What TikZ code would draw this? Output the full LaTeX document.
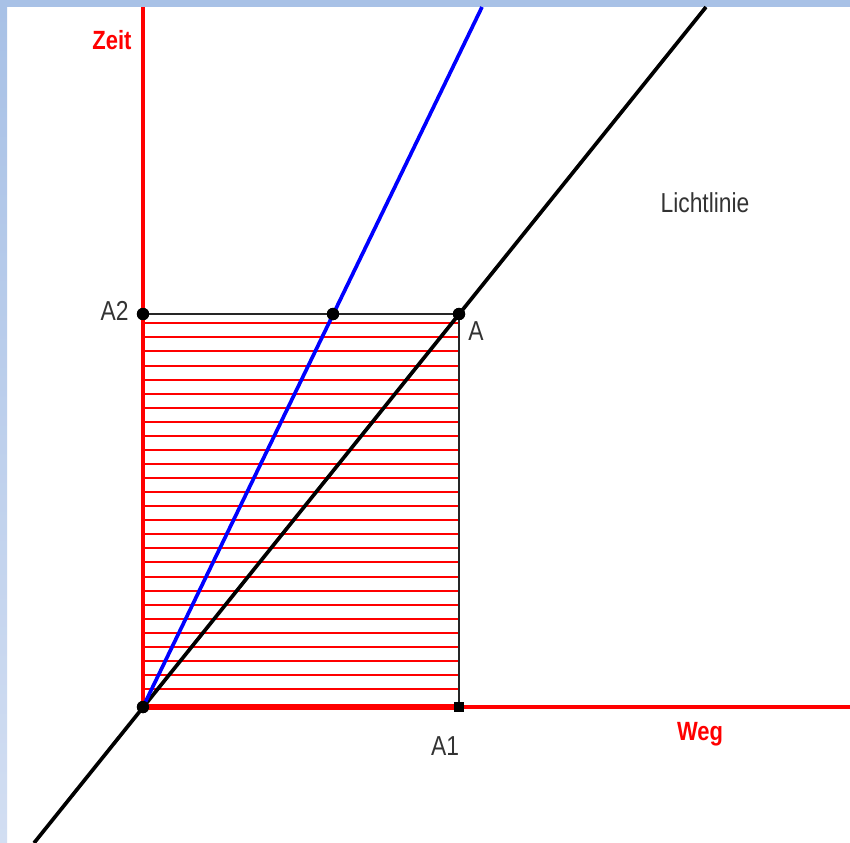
\documentclass[tikz,border=0pt]{standalone}
\usepackage{fontspec}
\usepackage{graphicx}
\setmainfont{Liberation Sans}
\usetikzlibrary{positioning}
\definecolor{framebl}{RGB}{168,193,230}
\definecolor{framelt}{RGB}{210,222,242}
\newcommand{\tallt}[1]{\scalebox{1}[1.2]{#1}}

\begin{document}
\begin{tikzpicture}[x=0.02cm, y=-0.02cm,
  dot/.style={circle, fill=black, inner sep=0pt, minimum size=7pt},
  sqdot/.style={rectangle, fill=black, inner sep=0pt, minimum size=6pt},
  axis/.style={red, line width=2pt},
  axlab/.style={text=red, font=\fontsize{12.5}{14}\selectfont\bfseries, anchor=base},
  ptlab/.style={text=black!80, font=\fontsize{13}{15}\selectfont, anchor=base},
  hatch/.style={red, line width=1.134pt},
  thinl/.style={black!85, line width=0.7pt},
  world/.style={black, line width=2.1pt},
  ship/.style={blue, line width=2.1pt},
]
% Frame
\useasboundingbox (0,0) rectangle (850,843);
\fill[white] (0,0) rectangle (850,843);
\fill[framebl] (0,0) rectangle (850,7);
\shade[top color=framebl, bottom color=framelt] (0,7) rectangle (7,843);

% Points
\node[dot]   (O)  at (143,707) {};
\node[dot]   (A2) at (143,314) {};
\node[dot]   (B)  at (333,314) {};
\node[dot]   (A)  at (459,314) {};
\node[sqdot] (A1) at (459,707) {};

% Line ends
\coordinate (zt) at (143,7);
\coordinate (we) at (850,707);
\coordinate (bt) at (482,7);
\coordinate (lt) at (706,7);
\coordinate (lb) at (34,843);

% Hatching
\foreach \k [evaluate=\k as \yy using round(323.3+14.07*\k)] in {0,...,26}
  \draw[hatch] (144,\yy) -- (459,\yy);

% Rectangle
\draw[thinl] (A2.center) -- (A.center);
\draw[thinl] (A.center) -- (A1.center);

% Axes
\draw[axis] (zt) -- (O.center);
\draw[red, line width=2.6pt] (O.center) -- (we);
\draw[red, line width=3.6pt] (O.center) -- (A1.center);

% Light line and blue line
\draw[world] (lb) -- (lt);
\draw[ship] (O.center) -- (bt);

% Points on top
\node[dot]   at (O)  {};
\node[dot]   at (A2) {};
\node[dot]   at (B)  {};
\node[dot]   at (A)  {};
\node[sqdot] at (A1) {};

% Labels
\node[axlab] (zeit) at (112,49)  {\tallt{Zeit}};
\node[axlab] (weg)  at (700,740) {\tallt{Weg}};
\node[ptlab] (la2)  at (114.5,320) {\tallt{A2}};
\node[ptlab] (la)   at (476,340) {\tallt{A}};
\node[ptlab] (la1)  at (445,755) {\tallt{A1}};
\node[ptlab] (licht) at (705,212) {\tallt{Lichtlinie}};

\end{tikzpicture}
\end{document}
